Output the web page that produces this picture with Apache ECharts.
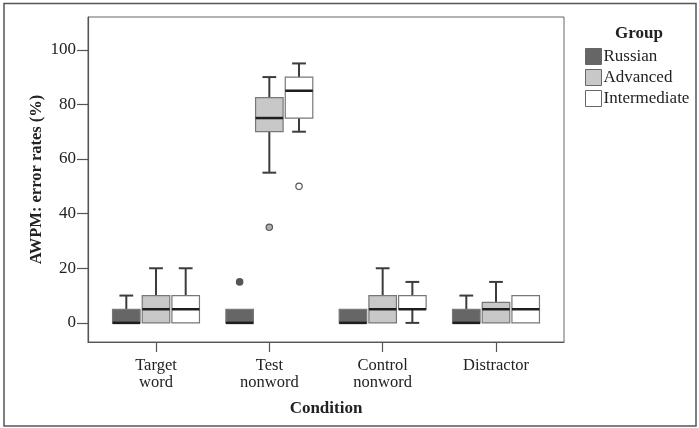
<!DOCTYPE html>
<html>
<head>
<meta charset="utf-8">
<script src="https://cdn.jsdelivr.net/npm/echarts@6/dist/echarts.min.js"></script>
<style>
html,body{margin:0;padding:0;background:#fff;}
#chart{width:699px;height:428px;}
</style>
</head>
<body>
<div id="chart"></div>
<script>
// ---- data ----
const categories = ['Target\nword', 'Test\nnonword', 'Control\nnonword', 'Distractor'];
const categoryPositions = [1, 2, 3, 4];
const groups = ['Russian', 'Advanced', 'Intermediate'];
// rows: [category position, min, Q1, median, Q3, max]
const russianBoxes = [
  [1, 0, 0, 0, 5, 10],
  [2, 0, 0, 0, 5, 5],
  [3, 0, 0, 0, 5, 5],
  [4, 0, 0, 0, 5, 10]
];
const advancedBoxes = [
  [1, 0, 0, 5, 10, 20],
  [2, 55, 70, 75, 82.5, 90],
  [3, 0, 0, 5, 10, 20],
  [4, 0, 0, 5, 7.5, 15]
];
const intermediateBoxes = [
  [1, 0, 0, 5, 10, 20],
  [2, 70, 75, 85, 90, 95],
  [3, 0, 5, 5, 10, 15],
  [4, 0, 0, 5, 10, 10]
];
// outliers: [category position, value]
const russianOutliers = [[2, 15]];
const advancedOutliers = [[2, 35]];
const intermediateOutliers = [[2, 50]];
const yTicks = [0, 20, 40, 60, 80, 100];

// ---- styles ----
const FONT = "'Liberation Serif','Times New Roman',serif";
const OFFSETS = [-0.262, 0, 0.262];
const BOX_W = 0.243;
const FILLS = ['#666666', '#c8c8c8', '#ffffff'];
const OUTLIER_FILLS = ['#555555', '#b0b0b0', '#ffffff'];
const BOX_EDGE = '#777777';
const WHISKER = '#3c3c3c';
const MEDIAN = '#1e1e1e';

function boxRenderer(offset, fill) {
  return function (params, api) {
    const x = api.value(0) + offset;
    const w = api.size([BOX_W, 0])[0];
    const cx = api.coord([x, 0])[0];
    const yMin = api.coord([x, api.value(1)])[1];
    const yQ1 = api.coord([x, api.value(2)])[1];
    const yMed = api.coord([x, api.value(3)])[1];
    const yQ3 = api.coord([x, api.value(4)])[1];
    const yMax = api.coord([x, api.value(5)])[1];
    const capHalf = w / 4;
    const children = [];
    const wStyle = { stroke: WHISKER, lineWidth: 2 };
    if (Math.abs(yMax - yQ3) > 0.5) {
      children.push({ type: 'line', shape: { x1: cx, y1: yQ3, x2: cx, y2: yMax }, style: wStyle });
      children.push({ type: 'line', shape: { x1: cx - capHalf, y1: yMax, x2: cx + capHalf, y2: yMax }, style: wStyle });
    }
    if (Math.abs(yMin - yQ1) > 0.5) {
      children.push({ type: 'line', shape: { x1: cx, y1: yQ1, x2: cx, y2: yMin }, style: wStyle });
      children.push({ type: 'line', shape: { x1: cx - capHalf, y1: yMin, x2: cx + capHalf, y2: yMin }, style: wStyle });
    }
    children.push({
      type: 'rect',
      shape: { x: cx - w / 2, y: yQ3, width: w, height: yQ1 - yQ3 },
      style: { fill: fill, stroke: BOX_EDGE, lineWidth: 1.2 }
    });
    children.push({
      type: 'line',
      shape: { x1: cx - w / 2, y1: yMed, x2: cx + w / 2, y2: yMed },
      style: { stroke: MEDIAN, lineWidth: 2.5 }
    });
    return { type: 'group', children: children };
  };
}

function outlierRenderer(offset, fill) {
  return function (params, api) {
    const p = api.coord([api.value(0) + offset, api.value(1)]);
    return {
      type: 'circle',
      shape: { cx: p[0], cy: p[1], r: 3.2 },
      style: { fill: fill, stroke: '#555555', lineWidth: 1.2 }
    };
  };
}

const boxData = [russianBoxes, advancedBoxes, intermediateBoxes];
const outlierData = [russianOutliers, advancedOutliers, intermediateOutliers];

const series = [];
groups.forEach(function (g, i) {
  series.push({
    name: g,
    type: 'custom',
    renderItem: boxRenderer(OFFSETS[i], FILLS[i]),
    encode: { x: 0, y: [1, 2, 3, 4, 5] },
    itemStyle: { color: FILLS[i], borderColor: '#666', borderWidth: 1 },
    data: boxData[i],
    z: 2
  });
  series.push({
    name: g + ' outliers',
    type: 'custom',
    renderItem: outlierRenderer(OFFSETS[i], OUTLIER_FILLS[i]),
    encode: { x: 0, y: 1 },
    data: outlierData[i],
    z: 3
  });
});

const chart = echarts.init(document.getElementById('chart'), null, { renderer: 'canvas' });
chart.setOption({
  animation: false,
  backgroundColor: '#ffffff',
  textStyle: { fontFamily: FONT },
  title: {
    text: 'Group',
    left: 615,
    top: 25,
    padding: 0,
    textStyle: { fontFamily: FONT, fontSize: 17, fontWeight: 'bold', color: '#222' }
  },
  legend: {
    orient: 'vertical',
    left: 585,
    top: 48,
    padding: 0,
    itemWidth: 16,
    itemHeight: 16,
    itemGap: 4,
    icon: 'rect',
    data: groups.map(function (g, i) {
      return { name: g, itemStyle: { color: FILLS[i], borderColor: '#666', borderWidth: 1 } };
    }),
    textStyle: { fontFamily: FONT, fontSize: 17, color: '#222', padding: [0, 0, 0, -3] }
  },
  grid: {
    left: 88, right: 135, top: 17, bottom: 86,
    show: true, borderColor: '#666', borderWidth: 1, backgroundColor: 'transparent',
    containLabel: false
  },
  xAxis: {
    type: 'value',
    min: 0.4,
    max: 4.6,
    name: 'Condition',
    nameLocation: 'middle',
    nameGap: 58,
    nameMoveOverlap: false,
    nameTextStyle: { fontFamily: FONT, fontSize: 17, fontWeight: 'bold', color: '#222' },
    axisLine: { onZero: false, lineStyle: { color: '#555', width: 1.2 } },
    axisTick: { show: true, length: 10, customValues: categoryPositions, lineStyle: { color: '#555', width: 1.2 } },
    axisLabel: {
      customValues: categoryPositions,
      formatter: function (v) { return categories[categoryPositions.indexOf(Math.round(v))] || ''; },
      fontFamily: FONT, fontSize: 16.5, color: '#222', lineHeight: 17, margin: 15
    },
    splitLine: { show: false }
  },
  yAxis: {
    type: 'value',
    min: -7,
    max: 112,
    name: 'AWPM: error rates (%)',
    nameLocation: 'middle',
    nameGap: 43,
    nameMoveOverlap: false,
    nameTextStyle: { fontFamily: FONT, fontSize: 16.5, fontWeight: 'bold', color: '#222' },
    axisLine: { show: true, onZero: false, lineStyle: { color: '#555', width: 1.2 } },
    axisTick: { show: true, length: 11, customValues: yTicks, lineStyle: { color: '#555', width: 1.2 } },
    axisLabel: { customValues: yTicks, fontFamily: FONT, fontSize: 17, color: '#222', margin: 12 },
    splitLine: { show: false }
  },
  graphic: [{
    type: 'rect',
    shape: { x: 4, y: 3.5, width: 692, height: 422.5 },
    style: { fill: 'none', stroke: '#555', lineWidth: 1.5 },
    silent: true,
    z: 100
  }],
  series: series
});
</script>
</body>
</html>
